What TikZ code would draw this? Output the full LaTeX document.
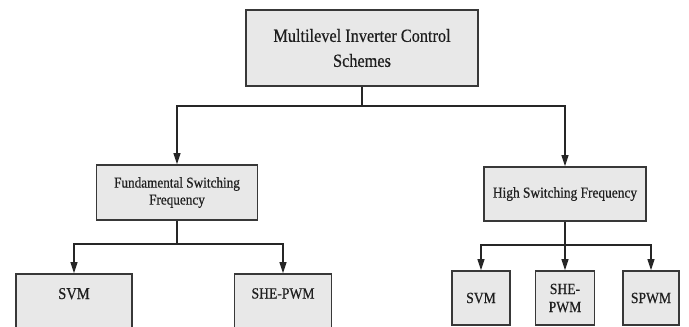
\documentclass[tikz,border=0pt]{standalone}
\usepackage{fontspec}
\setmainfont[FakeStretch=0.88,FakeBold=0.5]{Liberation Serif}
\usetikzlibrary{arrows.meta}
\definecolor{boxfill}{HTML}{E8E8E8}
\definecolor{boxline}{HTML}{383838}
\definecolor{txt}{HTML}{1E1E1E}
\begin{document}
\begin{tikzpicture}[x=1pt,y=-1pt,
  box/.style={draw=boxline, line width=1.8pt, fill=boxfill, text=txt, align=center, inner sep=1pt, font=\fontsize{15.5}{18}\selectfont},
  conn/.style={draw=black!85, line width=1.2pt},
  arr/.style={conn, -{Triangle[length=11pt,width=7pt]}}]
\useasboundingbox[fill=white] (0,0) rectangle (689,327);
% nodes
\node[box, minimum width=232pt, minimum height=76pt, font=\fontsize{18.5}{25}\selectfont] (top) at (362,48) {Multilevel Inverter Control\\Schemes};
\node[box, minimum width=161pt, minimum height=55pt, font=\fontsize{15}{17}\selectfont] (fund) at (177,192.5) {Fundamental Switching\\Frequency};
\node[box, minimum width=162pt, minimum height=54pt, font=\fontsize{15.2}{17}\selectfont] (hsf) at (565,194) {High Switching Frequency};
\node[box, minimum width=116pt, minimum height=54pt, text height=10pt, text depth=14pt, font=\fontsize{16.5}{18}\selectfont] (svmL) at (74,301) {SVM};
\node[box, minimum width=97pt, minimum height=54pt, text height=10pt, text depth=15pt] (sheL) at (283,301) {SHE-PWM};
\node[box, minimum width=58pt, minimum height=54pt] (svmR) at (481,298) {SVM};
\node[box, minimum width=59pt, minimum height=54pt] (sheR) at (565,298) {SHE-\\PWM};
\node[box, minimum width=56pt, minimum height=54pt] (spwmR) at (651,298) {SPWM};
% junctions
\coordinate (j0) at (362,106);
\coordinate (j1) at (177,244);
\coordinate (j2) at (565,245);
% connectors
\draw[conn] (top.south) -- (j0);
\draw[arr] (j0) -| (fund.north);
\draw[arr] (j0) -| (hsf.north);
\draw[conn] (fund.south) -- (j1);
\draw[arr] (j1) -| (svmL.north);
\draw[arr] (j1) -| (sheL.north);
\draw[conn] (hsf.south) -- (j2);
\draw[arr] (j2) -| (svmR.north);
\draw[arr] (j2) -- (sheR.north);
\draw[arr] (j2) -| (spwmR.north);
\end{tikzpicture}
\end{document}
